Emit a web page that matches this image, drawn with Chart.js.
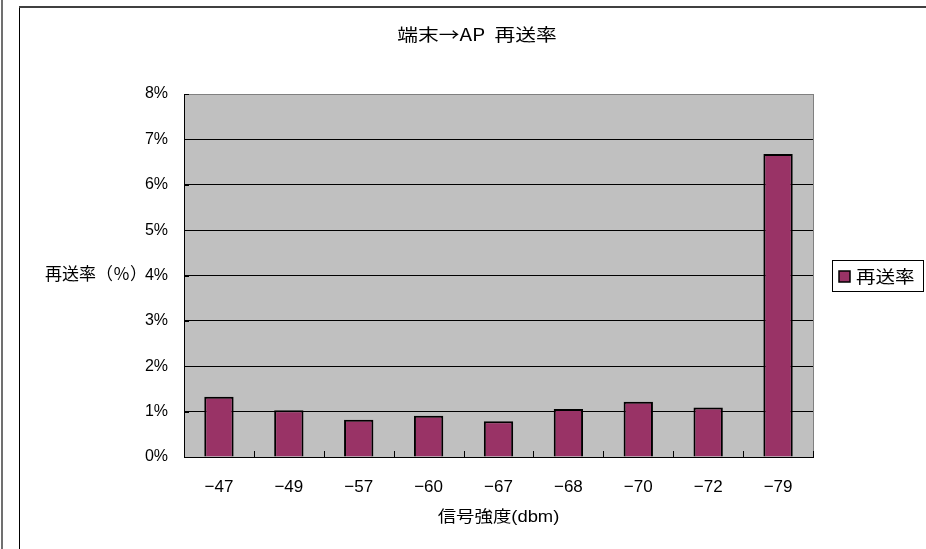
<!DOCTYPE html>
<html>
<head>
<meta charset="utf-8">
<script src="https://cdn.jsdelivr.net/npm/chart.js@4/dist/chart.umd.min.js"></script>
<style>
  html, body { margin: 0; padding: 0; background: #fff; overflow: hidden; }
  canvas { display: block; }
</style>
</head>
<body>
<canvas id="chart" width="926" height="549"></canvas>
<script>
// Texts
const chartTitle = '端末→AP  再送率';
const xAxisTitle = '信号強度(dbm)';
const yAxisTitle = '再送率（％）';
const seriesName = '再送率';

// Signal strength categories (dBm) and resend rate per category (%)
const categories = ['−47', '−49', '−57', '−60', '−67', '−68', '−70', '−72', '−79'];
const resendRate = [1.33, 1.03, 0.82, 0.91, 0.79, 1.06, 1.22, 1.09, 6.68];

// Value axis range (%)
const yMin = 0;
const yMax = 8;
const yStep = 1;

const FONT = "'Liberation Sans', 'Noto Sans CJK JP', sans-serif";
const CJK_FONT = "'Noto Sans CJK JP', sans-serif";
const BAR_COLOR = '#993366';
const PLOT_BG = '#C0C0C0';

// Draw text widened horizontally by factor sx around (x, y)
function wideText(ctx, text, x, y, sx) {
  ctx.save();
  ctx.translate(x, y);
  ctx.scale(sx, 1);
  ctx.fillText(text, 0, 0);
  ctx.restore();
}

// Background, outer frame, plot area fill, borders, titles and legend
const framePlugin = {
  id: 'frame',
  beforeDraw(chart) {
    const { ctx, chartArea: a, width, height } = chart;
    ctx.save();
    ctx.fillStyle = '#fff';
    ctx.fillRect(0, 0, width, height);
    // page edge line
    ctx.fillStyle = '#707070';
    ctx.fillRect(1, 0, 2, height);
    // chart frame
    ctx.fillStyle = '#000';
    ctx.fillRect(19, 6, 1, height - 6);
    ctx.fillStyle = '#404040';
    ctx.fillRect(19, 6, width - 19, 2);
    // plot area
    ctx.fillStyle = PLOT_BG;
    ctx.fillRect(a.left, a.top, a.right - a.left, a.bottom - a.top);
    ctx.restore();
  },
  beforeDatasetsDraw(chart) {
    const { ctx, chartArea: a } = chart;
    ctx.save();
    ctx.strokeStyle = '#808080';
    ctx.lineWidth = 1;
    ctx.beginPath();
    ctx.moveTo(a.right + 0.5, a.top);
    ctx.lineTo(a.right + 0.5, a.bottom);
    ctx.stroke();
    ctx.restore();
  },
  afterDraw(chart) {
    const { ctx, chartArea: a, scales } = chart;
    const x = scales.x, y = scales.y;
    ctx.save();
    // inside tick marks on the category axis (at category boundaries)
    ctx.strokeStyle = '#000';
    ctx.lineWidth = 1;
    const n = chart.data.labels.length;
    const step = (a.right - a.left) / n;
    ctx.beginPath();
    for (let i = 1; i <= n; i++) {
      const px = Math.round(x.getPixelForValue(i - 1) + step / 2) + 0.5;
      ctx.moveTo(px, a.bottom);
      ctx.lineTo(px, a.bottom - 6);
    }
    // inside tick marks on the value axis
    for (let v = yMin; v <= yMax; v += yStep) {
      const py = Math.round(y.getPixelForValue(v)) + 0.5;
      ctx.moveTo(a.left, py);
      ctx.lineTo(a.left + 5, py);
    }
    ctx.stroke();

    // titles
    ctx.fillStyle = '#000';
    ctx.textBaseline = 'middle';
    ctx.textAlign = 'center';
    ctx.font = '17px ' + CJK_FONT;
    wideText(ctx, chartTitle, 477, 35, 1.22);
    ctx.font = '16px ' + FONT;
    wideText(ctx, xAxisTitle, (a.left + a.right) / 2, 518, 1.15);
    ctx.textAlign = 'left';
    ctx.font = '17px ' + FONT;
    ctx.fillText(yAxisTitle, 45, y.getPixelForValue(4));

    // legend
    const ds = chart.data.datasets[0];
    const lx = 832, ly = 260, lw = 91, lh = 31;
    ctx.fillStyle = '#fff';
    ctx.fillRect(lx, ly, lw, lh);
    ctx.strokeStyle = '#000';
    ctx.lineWidth = 1;
    ctx.strokeRect(lx + 0.5, ly + 0.5, lw, lh);
    ctx.fillStyle = ds.backgroundColor;
    ctx.fillRect(839, 271, 11, 11);
    ctx.lineWidth = 1.5;
    ctx.strokeRect(839, 271, 11, 11);
    ctx.fillStyle = '#000';
    ctx.font = '17px ' + CJK_FONT;
    ctx.textAlign = 'left';
    wideText(ctx, ds.label, 856, 277, 1.15);
    ctx.restore();
  }
};

new Chart(document.getElementById('chart'), {
  type: 'bar',
  data: {
    labels: categories,
    datasets: [{
      label: seriesName,
      data: resendRate,
      backgroundColor: BAR_COLOR,
      borderColor: '#000',
      borderWidth: 2,
      borderSkipped: 'start',
      barPercentage: 0.42,
      categoryPercentage: 1.0
    }]
  },
  options: {
    responsive: false,
    devicePixelRatio: 1,
    animation: false,
    layout: { padding: { left: 0, top: 94, right: 113, bottom: 0 } },
    plugins: {
      legend: { display: false },
      title: { display: false },
      tooltip: { enabled: false }
    },
    scales: {
      x: {
        grid: { display: false },
        border: { display: true, color: '#000', width: 1 },
        ticks: {
          color: '#000',
          font: { family: FONT, size: 17 },
          padding: 12,
          maxRotation: 0
        },
        afterFit(scale) { scale.height = 92; }
      },
      y: {
        min: yMin,
        max: yMax,
        grid: {
          color: (c) => (c.tick && c.tick.value === yMax ? '#808080' : '#000'),
          lineWidth: 1,
          drawTicks: false
        },
        border: { display: true, color: '#000', width: 1 },
        ticks: {
          stepSize: yStep,
          color: '#000',
          font: { family: FONT, size: 16 },
          padding: 16,
          callback: (v) => v + '%'
        },
        afterFit(scale) { scale.width = 184; }
      }
    }
  },
  plugins: [framePlugin]
});
</script>
</body>
</html>
